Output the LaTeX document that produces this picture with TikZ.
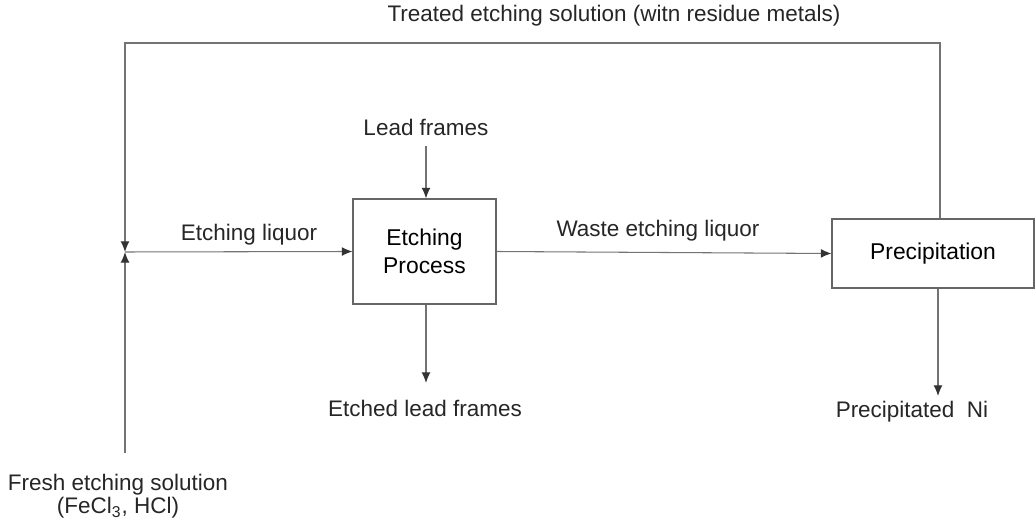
\documentclass[tikz,border=0pt]{standalone}
\usepackage{fontspec}
\setmainfont{Liberation Sans}
\usetikzlibrary{arrows.meta}
\begin{document}
\begin{tikzpicture}[x=0.02cm,y=-0.02cm,
  line/.style={draw=black!55,line width=0.6pt},
  arr/.style={line,-{Latex[length=6pt,width=5pt,black!80]}},
  proc/.style={draw=black!60,line width=0.6pt,inner sep=0pt,align=center,font=\fontsize{13pt}{16pt}\selectfont},
  lbl/.style={inner sep=0pt,anchor=base,font=\fontsize{12.8pt}{13pt}\selectfont,text=black!85}]
\useasboundingbox (0,0) rectangle (1036,526);
\node[proc,minimum width=143*0.02cm,minimum height=105*0.02cm] (etch) at (424.5,251.5) {Etching\\Process};
\node[proc,minimum width=202*0.02cm,minimum height=69*0.02cm] (prec) at (933,253.5) {Precipitation};
\node[lbl] (lead) at (426,136) {Lead frames};
\node[lbl] (etched) at (425,417) {Etched lead frames};
\node[lbl] (pni) at (912,418) {Precipitated\ \ Ni};
\node[lbl] (fresh) at (118,491) {Fresh etching solution};
\node[lbl] (fresh2) at (118,514) {(FeCl\textsubscript{3}, HCl)};
\node[lbl] (treated) at (614,22) {Treated etching solution (witn residue metals)};
\node[lbl] (liq) at (249,241) {Etching liquor};
\node[lbl] (waste) at (658,237) {Waste etching liquor};
\coordinate (valve) at (125,252);
\coordinate (tl) at (125,43);
\coordinate (tr) at (940,43);
\coordinate (bl) at (125,453);
\coordinate (ledtop) at (426,146);
\coordinate (edbot) at (426,383);
\coordinate (pnbot) at (938,396);
% recycle loop
\draw[arr] (prec.north -| tr) -- (tr) -- (tl) -- (valve);
\draw[arr] (bl) -- (valve);
\draw[arr] (valve) -- (etch.west);
\draw[arr] (ledtop) -- (etch.north -| ledtop);
\draw[arr] (etch.south -| edbot) -- (edbot);
\draw[arr] (etch.east) -- (prec.west);
\draw[arr] (prec.south -| pnbot) -- (pnbot);
\end{tikzpicture}
\end{document}
